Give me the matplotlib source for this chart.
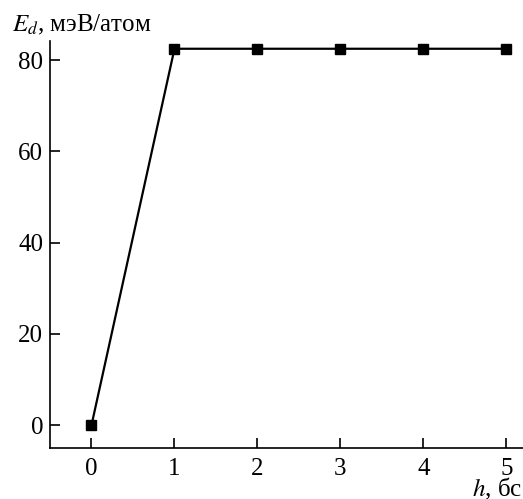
import matplotlib.pyplot as plt

# данные
h = [0, 1, 2, 3, 4, 5]
E_d = [0, 82.5, 82.5, 82.5, 82.5, 82.5]
x_ticks = [0, 1, 2, 3, 4, 5]
y_ticks = [0, 20, 40, 60, 80]

plt.rcParams['font.family'] = ['Liberation Serif', 'DejaVu Serif']
plt.rcParams['mathtext.fontset'] = 'stix'

fig = plt.figure(figsize=(5.23, 4.99), dpi=100)
ax = fig.add_axes([50 / 523, 1 - 448 / 499, 473 / 523, 407 / 499])

ax.plot(h, E_d, color='black', linewidth=1.6, marker='s', markersize=7.5)

ax.set_xlim(-0.5, 5.2)
ax.set_ylim(-5, 84.2)
ax.set_xticks(x_ticks)
ax.set_yticks(y_ticks)
ax.tick_params(direction='in', length=7, width=1.2, labelsize=18)
ax.tick_params(axis='x', pad=7)
ax.tick_params(axis='y', pad=5)
for s in ['top', 'right']:
    ax.spines[s].set_visible(False)
for s in ['left', 'bottom']:
    ax.spines[s].set_linewidth(1.2)

fig.text(12 / 523, 1 - 25 / 499, r'$E_d$, мэВ/атом', fontsize=18, va='center', ha='left')
fig.text(522 / 523, 1 - 489 / 499, r'$h$, бс', fontsize=18, va='center', ha='right')

plt.savefig('out.png', dpi=100)
